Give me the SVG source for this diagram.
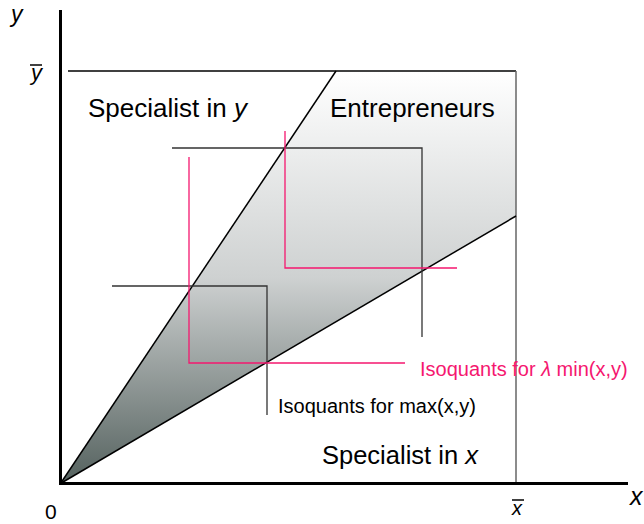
<svg xmlns="http://www.w3.org/2000/svg" width="644" height="524" viewBox="0 0 644 524">
<style>
  text { font-family: "Liberation Sans", Arial, sans-serif; fill: #000; }
  .it { font-style: italic; }
  .big { font-size: 26px; }
  .mid { font-size: 20px; }
  .pink { fill: #f5176f; }
  .iso { fill: none; stroke: #333; stroke-width: 1.3; }
  .isop { fill: none; stroke: #f5176f; stroke-width: 1.3; }
  .ray { fill: none; stroke: #000; stroke-width: 1.5; }
</style>
<defs>
  <linearGradient id="shade" x1="0" y1="71" x2="0" y2="484" gradientUnits="userSpaceOnUse">
    <stop offset="0" stop-color="#ffffff"/>
    <stop offset="0.5" stop-color="#ced1d1"/>
    <stop offset="1" stop-color="#54615e"/>
  </linearGradient>
</defs>
<g id="region">
  <polygon points="60.5,483.5 336,71 516,71 516,216" fill="url(#shade)"/>
</g>
<g id="connectors">
  <line x1="68" y1="71" x2="516" y2="71" stroke="#000" stroke-width="1.5"/>
  <line x1="516" y1="71" x2="516" y2="483" stroke="#666" stroke-width="1.5"/>
  <line class="ray" x1="60.5" y1="483.5" x2="336" y2="71"/>
  <line class="ray" x1="60.5" y1="483.5" x2="516" y2="216"/>
  <polyline class="iso" points="172,148 422,148 422,337"/>
  <polyline class="iso" points="112,286 267,286 267,415"/>
  <polyline class="isop" points="285,131 285,268 457,268"/>
  <polyline class="isop" points="189,157 189,363 405,363"/>
  <polyline points="60.5,10 60.5,483.5 628,483.5" fill="none" stroke="#000" stroke-width="3"/>
</g>
<g id="labels">
  <text class="it" x="11" y="21.5" style="font-size:23px">y</text>
  <text class="mid it" x="31" y="80" style="font-size:22px">y</text>
  <line x1="30" y1="65" x2="42" y2="65" stroke="#000" stroke-width="1.5"/>
  <text x="45" y="519" style="font-size:21px">0</text>
  <text class="big it" x="630" y="505" style="font-size:25px">x</text>
  <text class="mid it" x="512" y="515">x</text>
  <line x1="512" y1="500" x2="524" y2="500" stroke="#000" stroke-width="1.5"/>
  <text class="big" x="88" y="117">Specialist in <tspan class="it">y</tspan></text>
  <text class="big" x="330" y="117">Entrepreneurs</text>
  <text class="mid pink" x="420" y="376">Isoquants for <tspan class="it">λ</tspan> min(x,y)</text>
  <text class="mid" x="278" y="413">Isoquants for max(x,y)</text>
  <text class="big" x="322" y="464" style="font-size:25.5px">Specialist in <tspan class="it">x</tspan></text>
</g>
</svg>
